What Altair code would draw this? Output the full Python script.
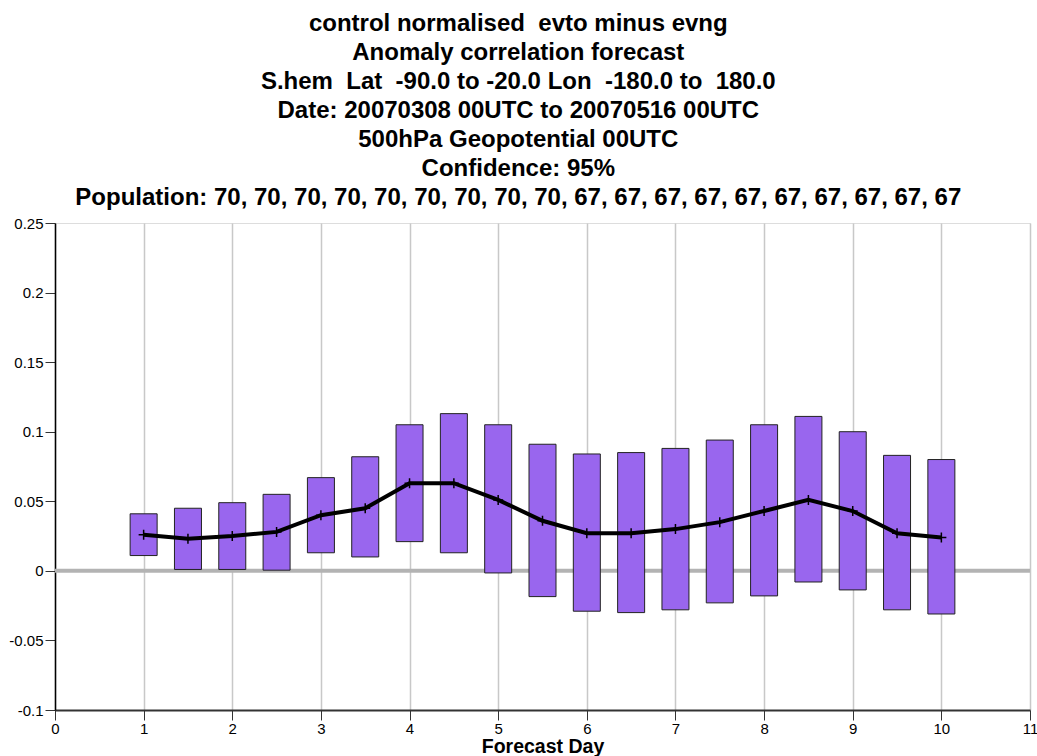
import altair as alt
import pandas as pd

days = [1, 1.5, 2, 2.5, 3, 3.5, 4, 4.5, 5, 5.5, 6, 6.5, 7, 7.5, 8, 8.5, 9, 9.5, 10]
mean = [0.026, 0.023, 0.025, 0.028, 0.040, 0.045, 0.063, 0.063, 0.051, 0.036,
        0.027, 0.027, 0.030, 0.035, 0.043, 0.051, 0.043, 0.027, 0.024]
upper = [0.041, 0.045, 0.049, 0.055, 0.067, 0.082, 0.105, 0.113, 0.105, 0.091,
         0.084, 0.085, 0.088, 0.094, 0.105, 0.111, 0.100, 0.083, 0.080]
lower = [0.011, 0.001, 0.001, 0.0005, 0.013, 0.010, 0.021, 0.013, -0.0015, -0.0185,
         -0.029, -0.030, -0.028, -0.023, -0.018, -0.008, -0.0137, -0.028, -0.031]
x_ticks = list(range(0, 12))
y_ticks = [-0.1, -0.05, 0, 0.05, 0.1, 0.15, 0.2, 0.25]
title_lines = [
    "control normalised  evto minus evng",
    "Anomaly correlation forecast",
    "S.hem  Lat  -90.0 to -20.0 Lon  -180.0 to  180.0",
    "Date: 20070308 00UTC to 20070516 00UTC",
    "500hPa Geopotential 00UTC",
    "Confidence: 95%",
    "Population: 70, 70, 70, 70, 70, 70, 70, 70, 70, 67, 67, 67, 67, 67, 67, 67, 67, 67, 67",
]
# keep doubled spaces visible in SVG text
title_text = [t.replace("  ", " \u00a0") for t in title_lines]

df = pd.DataFrame({"day": days, "mean": mean, "upper": upper, "lower": lower})
zero_df = pd.DataFrame({"y": [0]})

FONT = "Liberation Sans"

xscale = alt.Scale(domain=[0, 11], nice=False, zero=False, padding=0)
yscale = alt.Scale(domain=[-0.1, 0.25], nice=False, zero=False, padding=0)

xaxis = alt.Axis(values=x_ticks, format="d", title="Forecast Day", grid=True,
                 gridColor="#c8c8c8", gridWidth=1.5, tickSize=10, tickColor="#333",
                 domainColor="#333", domainWidth=2, labelFontSize=15, labelFont=FONT,
                 labelColor="#000", labelFlush=False, labelOverlap=False,
                 titleFont=FONT, titleFontSize=19.5, titleFontWeight="bold",
                 titleColor="#000", titlePadding=1, labelPadding=1)
yaxis = alt.Axis(values=y_ticks, format="~g", title=None, grid=False, tickSize=10,
                 tickColor="#333", domainColor="#000", domainWidth=1.5, labelFontSize=15,
                 labelFont=FONT, labelColor="#000", labelPadding=2, labelFlush=False,
                 labelOverlap=False,
                 labelExpr="replace(datum.label, '\u2212', '-')")

zero = alt.Chart(zero_df).mark_rule(color="#b3b3b3", strokeWidth=4).encode(
    y=alt.Y("y:Q", scale=yscale, axis=yaxis)
)

bars = alt.Chart(df).mark_bar(size=27, color="#9966ee", stroke="#222", strokeWidth=1).encode(
    x=alt.X("day:Q", scale=xscale, axis=xaxis),
    y=alt.Y("lower:Q", scale=yscale, axis=yaxis),
    y2="upper:Q",
)

line = alt.Chart(df).mark_line(color="#000", strokeWidth=4).encode(
    x=alt.X("day:Q", scale=xscale, axis=xaxis),
    y=alt.Y("mean:Q", scale=yscale, axis=yaxis),
)

pts = alt.Chart(df).mark_point(shape="M0,-1L0,1M-1,0L1,0", size=100, stroke="#000",
                               strokeWidth=1.5, filled=False, opacity=1).encode(
    x=alt.X("day:Q", scale=xscale, axis=xaxis),
    y=alt.Y("mean:Q", scale=yscale, axis=yaxis),
)

chart = alt.layer(zero, bars, line, pts).properties(
    width=975,
    height=487,
    autosize=alt.AutoSizeParams(type="none"),
    padding={"left": 55, "top": 223, "right": 7, "bottom": 46},
    title=alt.TitleParams(text=title_text, font=FONT, fontSize=24, fontWeight="bold",
                          color="#000", lineHeight=29, anchor="middle", frame="bounds",
                          offset=6, dx=-5),
).configure_view(stroke="#444", strokeWidth=1).configure(background="white")

chart.save("out.html", embed_options={"renderer": "svg", "actions": False})
